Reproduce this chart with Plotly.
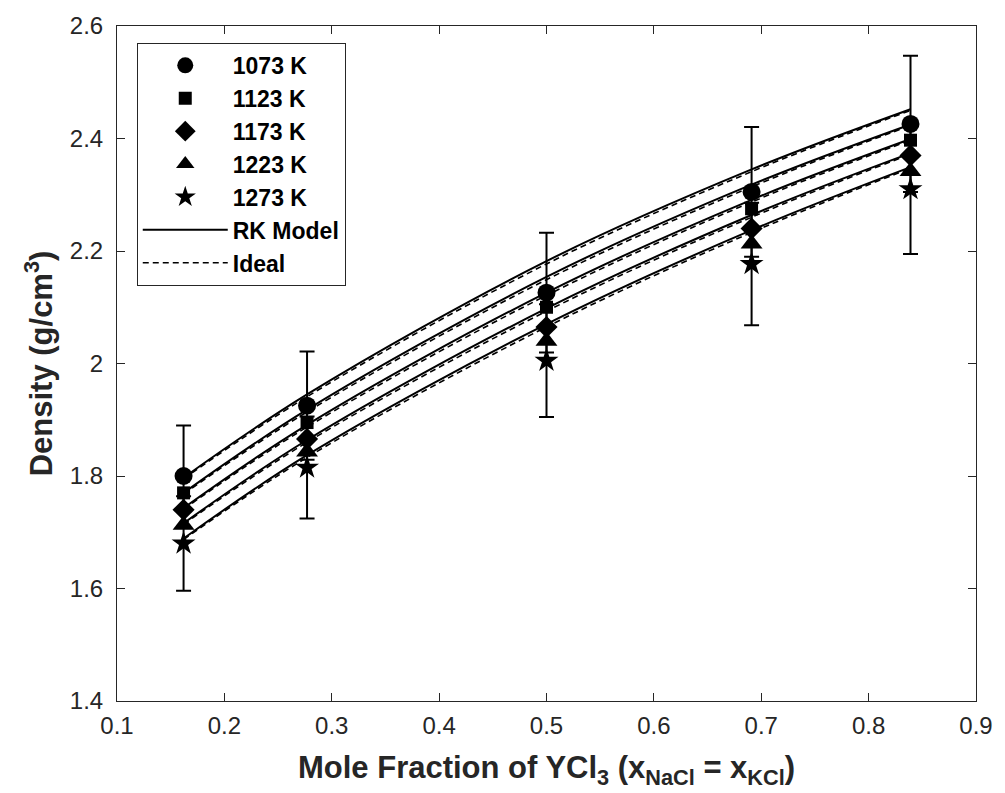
import plotly.graph_objects as go

# ---- data ----
temps = ["1073 K", "1123 K", "1173 K", "1223 K", "1273 K"]
x_exp = [0.162, 0.277, 0.500, 0.691, 0.839]
rho_1073 = [1.800, 1.925, 2.126, 2.305, 2.426]
rho_1123 = [1.770, 1.895, 2.100, 2.275, 2.397]
rho_1173 = [1.740, 1.866, 2.065, 2.240, 2.370]
rho_1223 = [1.713, 1.843, 2.040, 2.213, 2.342]
rho_1273 = [1.680, 1.815, 2.005, 2.177, 2.310]
err_pct = 0.05

x_model = [0.162, 0.277, 0.500, 0.691, 0.839]
rk_1073 = [1.797, 1.945, 2.182, 2.345, 2.452]
rk_1123 = [1.770, 1.918, 2.154, 2.318, 2.425]
rk_1173 = [1.743, 1.891, 2.126, 2.291, 2.399]
rk_1223 = [1.716, 1.864, 2.098, 2.264, 2.374]
rk_1273 = [1.689, 1.837, 2.070, 2.237, 2.349]

id_1073 = [1.795, 1.941, 2.177, 2.341, 2.450]
id_1123 = [1.768, 1.914, 2.149, 2.314, 2.423]
id_1173 = [1.741, 1.887, 2.121, 2.287, 2.397]
id_1223 = [1.714, 1.860, 2.093, 2.260, 2.372]
id_1273 = [1.687, 1.833, 2.065, 2.233, 2.347]

x_ticks = [0.1, 0.2, 0.3, 0.4, 0.5, 0.6, 0.7, 0.8, 0.9]
x_ticklabels = ["0.1", "0.2", "0.3", "0.4", "0.5", "0.6", "0.7", "0.8", "0.9"]
y_ticks = [1.4, 1.6, 1.8, 2.0, 2.2, 2.4, 2.6]
y_ticklabels = ["1.4", "1.6", "1.8", "2", "2.2", "2.4", "2.6"]

exp_series = [rho_1073, rho_1123, rho_1173, rho_1223, rho_1273]
rk_series = [rk_1073, rk_1123, rk_1173, rk_1223, rk_1273]
id_series = [id_1073, id_1123, id_1173, id_1223, id_1273]
symbols = ["circle", "square", "diamond", "triangle-up", "star"]
sizes = [18, 13, 17, 19, 18]
has_err = [True, False, False, False, True]

FONT = "Liberation Sans, Arial, sans-serif"
fig = go.Figure()

# model curves
for i, (rk, idl) in enumerate(zip(rk_series, id_series)):
    fig.add_trace(go.Scatter(
        x=x_model, y=rk, mode="lines", line=dict(color="black", width=2, shape="spline"),
        name="RK Model", legendgroup="rk", showlegend=(i == 0), legendrank=6))
    fig.add_trace(go.Scatter(
        x=x_model, y=idl, mode="lines",
        line=dict(color="black", width=1.6, dash="6px,4px", shape="spline"),
        name="Ideal", legendgroup="id", showlegend=(i == 0), legendrank=7))

# experimental points
for i, (name, ys) in enumerate(zip(temps, exp_series)):
    err = None
    if has_err[i]:
        err = dict(type="data", array=[v * err_pct for v in ys], symmetric=True,
                   color="black", thickness=2, width=7.5)
    fig.add_trace(go.Scatter(
        x=x_exp, y=ys, mode="markers", name=name, legendgroup=name, legendrank=i + 1,
        marker=dict(symbol=symbols[i], size=sizes[i], color="black",
                    line=dict(color="black", width=0)),
        error_y=err))

axis_common = dict(showgrid=False, zeroline=False, showline=True, linecolor="#262626",
                   linewidth=1, mirror="ticks", ticks="inside", ticklen=8,
                   tickcolor="#262626", tickfont=dict(family=FONT, size=24, color="#262626"))

fig.update_layout(
    width=1005, height=793,
    margin=dict(l=117, r=20, t=22, b=92),
    paper_bgcolor="white", plot_bgcolor="white",
    xaxis=dict(range=[0.1, 0.9], tickvals=x_ticks, ticktext=x_ticklabels, ticklabelstandoff=3,
               title=dict(text="<b>Mole Fraction of YCl<sub>3</sub> (x<sub>NaCl</sub> = x<sub>KCl</sub>)</b>",
                          font=dict(family=FONT, size=31, color="#262626"), standoff=18),
               **axis_common),
    yaxis=dict(range=[1.4, 2.6], tickvals=y_ticks, ticktext=y_ticklabels, ticklabelstandoff=8,
               title=dict(text="<b>Density (g/cm<sup>3</sup>)</b>",
                          font=dict(family=FONT, size=31, color="#262626"), standoff=7),
               **axis_common),
    legend=dict(x=0.023, y=0.975, xanchor="left", yanchor="top",
                bgcolor="white", bordercolor="#262626", borderwidth=1,
                font=dict(family=FONT, size=23, color="black", weight="bold"),
                traceorder="grouped", tracegroupgap=0, itemwidth=85),
    showlegend=True,
)

fig.write_html("out.html")
